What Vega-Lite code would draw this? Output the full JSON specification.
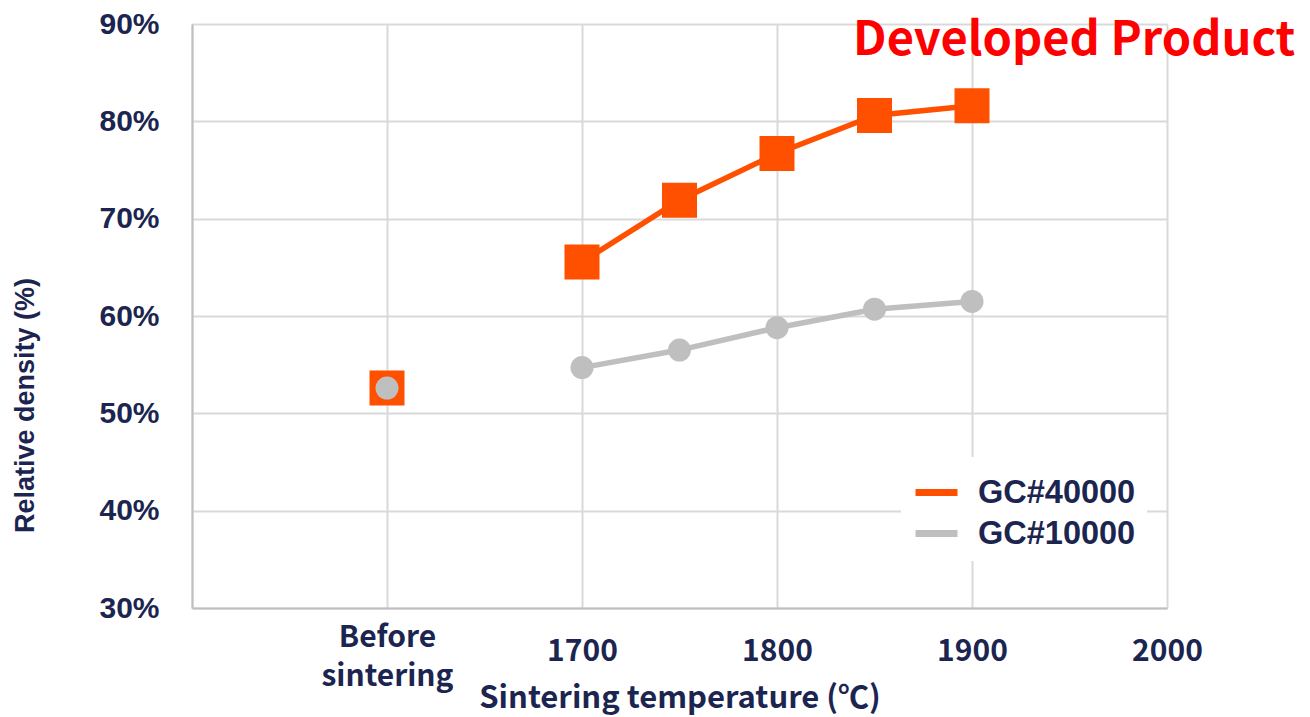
{
  "$schema": "https://vega.github.io/schema/vega-lite/v6.json",
  "autosize": "none",
  "width": 975,
  "height": 584,
  "padding": {"left": 192, "top": 24, "right": 143, "bottom": 109},
  "background": "white",
  "title": {
    "text": "Developed Product",
    "anchor": "end",
    "orient": "top",
    "font": "Noto Sans CJK JP",
    "fontWeight": "bold",
    "fontSize": 47,
    "color": "#ff0000",
    "baseline": "alphabetic",
    "offset": 0,
    "dx": 93,
    "dy": 93
  },
  "data": {
    "values": [
      {"temp": 1600, "density": 0.526, "series": "GC#40000"},
      {"temp": 1700, "density": 0.6555, "series": "GC#40000"},
      {"temp": 1750, "density": 0.719, "series": "GC#40000"},
      {"temp": 1800, "density": 0.767, "series": "GC#40000"},
      {"temp": 1850, "density": 0.806, "series": "GC#40000"},
      {"temp": 1900, "density": 0.816, "series": "GC#40000"},
      {"temp": 1600, "density": 0.526, "series": "GC#10000"},
      {"temp": 1700, "density": 0.547, "series": "GC#10000"},
      {"temp": 1750, "density": 0.565, "series": "GC#10000"},
      {"temp": 1800, "density": 0.588, "series": "GC#10000"},
      {"temp": 1850, "density": 0.607, "series": "GC#10000"},
      {"temp": 1900, "density": 0.615, "series": "GC#10000"}
    ]
  },
  "encoding": {
    "x": {
      "field": "temp",
      "type": "quantitative",
      "scale": {"domain": [1500, 2000], "nice": false, "zero": false},
      "axis": {
        "values": [1500, 1600, 1700, 1800, 1900, 2000],
        "labelExpr": "datum.value == 1600 ? ['Before', 'sintering'] : (datum.value == 1500 ? '' : datum.label)",
        "format": "d",
        "title": "Sintering temperature (℃)",
        "titleFont": "Noto Sans CJK JP",
        "titleFontWeight": "bold",
        "titleFontSize": 31,
        "titleColor": "#1c2550",
        "titleX": 487.5,
        "titleY": 90,
        "titleBaseline": "middle",
        "titleAlign": "center",
        "labelFont": "Noto Sans CJK JP",
        "labelFontWeight": "bold",
        "labelFontSize": 30,
        "labelColor": "#1c2550",
        "labelBaseline": "middle",
        "labelLineHeight": 39,
        "labelPadding": {"condition": {"test": "datum.value == 1600", "value": 29}, "value": 43},
        "labelOverlap": false,
        "labelFlush": false,
        "ticks": false,
        "tickSize": 0,
        "domainColor": "#bfbfbf",
        "domainWidth": 2,
        "gridColor": "#d9d9d9",
        "gridWidth": 2
      }
    },
    "y": {
      "field": "density",
      "type": "quantitative",
      "scale": {"domain": [0.3, 0.9], "nice": false, "zero": false},
      "axis": {
        "values": [0.3, 0.4, 0.5, 0.6, 0.7, 0.8, 0.9],
        "format": ".0%",
        "title": "Relative density (%)",
        "titleFont": "Liberation Sans",
        "titleFontWeight": "bold",
        "titleFontSize": 27,
        "titleColor": "#1c2550",
        "titleAngle": -90,
        "titleX": -167,
        "titleY": 381,
        "titleBaseline": "middle",
        "titleAlign": "center",
        "labelFont": "Liberation Sans",
        "labelFontWeight": "bold",
        "labelFontSize": 30,
        "labelColor": "#1c2550",
        "labelPadding": 33,
        "labelFlush": false,
        "labelOverlap": false,
        "ticks": false,
        "tickSize": 0,
        "domainColor": "#bfbfbf",
        "domainWidth": 2,
        "gridColor": "#d9d9d9",
        "gridWidth": 2
      }
    },
    "color": {
      "field": "series",
      "type": "nominal",
      "scale": {"domain": ["GC#40000", "GC#10000"], "range": ["#ff5000", "#bfbfbf"]}
    }
  },
  "layer": [
    {
      "transform": [{"filter": "datum.temp >= 1700"}],
      "mark": {"type": "line", "strokeWidth": 5.5},
      "encoding": {
        "color": {
          "field": "series",
          "type": "nominal",
          "scale": {"domain": ["GC#40000", "GC#10000"], "range": ["#ff5000", "#bfbfbf"]},
          "legend": {
            "title": null,
            "orient": "none",
            "legendX": 709,
            "legendY": 433,
            "padding": 11,
            "fillColor": "white",
            "symbolType": "stroke",
            "symbolSize": 1764,
            "symbolStrokeWidth": 7,
            "labelOffset": 17,
            "rowPadding": 0,
            "labelFont": "Liberation Sans",
            "labelFontWeight": "bold",
            "labelFontSize": 32.5,
            "labelColor": "#1c2550",
            "labelLimit": 300
          }
        }
      }
    },
    {
      "transform": [{"filter": "datum.series == 'GC#40000'"}],
      "mark": {"type": "point", "shape": "square", "size": 1225, "filled": true, "opacity": 1},
      "encoding": {
        "color": {
          "field": "series",
          "type": "nominal",
          "scale": {"domain": ["GC#40000", "GC#10000"], "range": ["#ff5000", "#bfbfbf"]},
          "legend": null
        }
      }
    },
    {
      "transform": [{"filter": "datum.series == 'GC#10000'"}],
      "mark": {"type": "point", "shape": "circle", "size": 531, "filled": true, "opacity": 1},
      "encoding": {
        "color": {
          "field": "series",
          "type": "nominal",
          "scale": {"domain": ["GC#40000", "GC#10000"], "range": ["#ff5000", "#bfbfbf"]},
          "legend": null
        }
      }
    }
  ]
}
